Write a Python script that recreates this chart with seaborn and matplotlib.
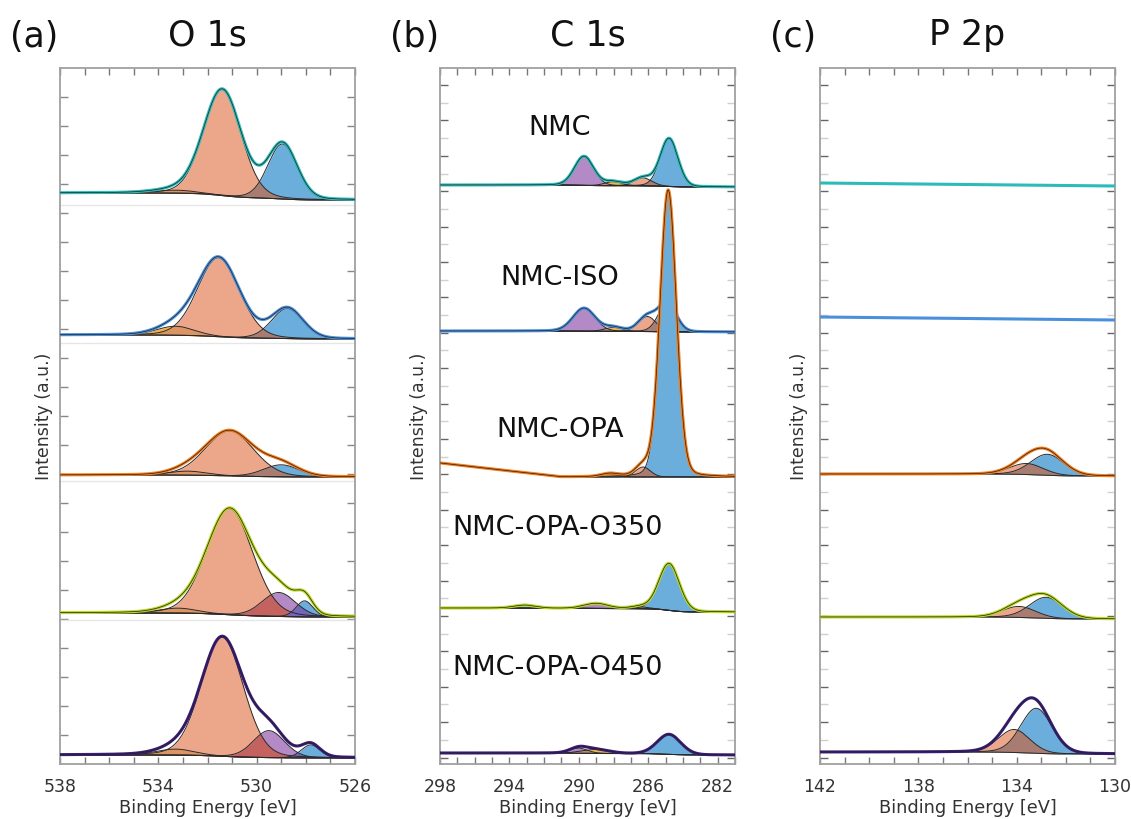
import numpy as np
import pandas as pd
import matplotlib
matplotlib.use("Agg")
import matplotlib.pyplot as plt
import seaborn as sns
from matplotlib.ticker import MultipleLocator, FixedLocator

sns.set_theme(style="white")
plt.rcParams['font.family'] = ['DejaVu Sans']

# ---------------- data ----------------
sample_names = ["NMC", "NMC-ISO", "NMC-OPA", "NMC-OPA-O350", "NMC-OPA-O450"]
sample_colors = ["#2BBBB8", "#4A8FDB", "#F57C1A", "#B9D620", "#3A1C78"]

# component fill colours
comp_fill = {"yellow": "#F2B544", "salmon": "#ECA68A", "blue": "#6BAEDC",
             "purple": "#B48AC6", "cyan": "#92D6EC"}
overlap_fill = {("salmon", "blue"): "#A87C70", ("salmon", "purple"): "#C4625F",
                ("purple", "blue"): "#7366B8", ("yellow", "salmon"): "#DC9462",
                ("yellow", "purple"): "#C08A78"}

# O 1s : (component, centre eV, height a.u., FWHM eV)
o1s_range = (526, 538)
o1s_base = [564, 425, 287, 147, 6]
o1s_step = [7, 4, 2, 4, 3]
o1s_peaks = [
    [("yellow", 533.3, 3, 2.0), ("salmon", 531.4, 106, 1.8), ("blue", 528.95, 55, 1.4)],
    [("yellow", 533.3, 9, 1.8), ("salmon", 531.55, 79, 2.0), ("blue", 528.75, 30, 1.5)],
    [("yellow", 532.8, 4, 1.8), ("salmon", 531.1, 45, 2.3), ("blue", 529.0, 12, 1.7)],
    [("yellow", 533.2, 5, 1.8), ("salmon", 531.1, 106, 2.2), ("purple", 529.1, 24, 1.6),
     ("blue", 528.05, 16, 0.8)],
    [("yellow", 533.3, 6, 1.8), ("salmon", 531.4, 119, 2.0), ("purple", 529.5, 27, 1.5),
     ("blue", 527.8, 13, 0.9)],
]

# C 1s
c1s_range = (281, 298)
c1s_base = [577, 432, 287, 152, 9]
c1s_step = [2, 1, 0, 4, 2]
c1s_tilt = [0, 0, 2.0, 0, 0]
c1s_tilt_start = 291.0
c1s_peaks = [
    [("purple", 289.7, 29, 1.3), ("yellow", 288.0, 4, 1.2), ("salmon", 286.3, 8, 1.2),
     ("blue", 284.8, 48, 1.2)],
    [("purple", 289.7, 23, 1.5), ("yellow", 288.0, 4, 1.2), ("salmon", 286.05, 15, 1.2),
     ("blue", 284.9, 29, 1.2)],
    [("yellow", 288.2, 3, 1.2), ("salmon", 286.3, 10, 1.0), ("blue", 284.85, 287, 1.1)],
    [("cyan", 293.1, 3, 1.5), ("purple", 289.0, 5, 1.6), ("salmon", 286.5, 2, 1.2),
     ("blue", 284.8, 47, 1.4)],
    [("purple", 290.0, 5, 1.2), ("yellow", 289.0, 4, 1.8), ("blue", 284.8, 20, 1.6)],
]
c1s_labels = ["NMC", "NMC-ISO", "NMC-OPA", "NMC-OPA-O350", "NMC-OPA-O450"]
c1s_label_x = [291.1, 291.1, 291.1, 297.3, 297.3]
c1s_label_y = [636, 486, 334, 236, 96]
c1s_label_ha = ["center", "center", "center", "left", "left"]

# P 2p
p2p_range = (130, 142)
p2p_base = [578, 444, 288, 145, 10]
p2p_step = [3, 3, 2, 2, 2]
p2p_peaks = [
    [],
    [],
    [("salmon", 133.6, 11, 1.6), ("blue", 132.75, 21, 1.6)],
    [("salmon", 133.9, 11, 1.6), ("blue", 132.8, 21, 1.6)],
    [("salmon", 134.1, 23, 1.5), ("blue", 133.2, 45, 1.5)],
]

panel_tags = ["(a)", "(b)", "(c)"]
panel_titles = ["O 1s", "C 1s", "P 2p"]
x_major = [[538, 534, 530, 526], [298, 294, 290, 286, 282], [142, 138, 134, 130]]


# ---------------- helpers ----------------
def pv(E, c, h, w, eta=0.12):
    d = (E - c) / w
    return h * ((1 - eta) * np.exp(-4 * np.log(2) * d ** 2) + eta / (1 + 4 * d ** 2))


def draw_panel(ax, erange, bases, steps, peaks, tilts=None, tilt_start=None):
    E = np.linspace(erange[0], erange[1], 900)
    for r in range(5):
        z = 2 + r * 6
        comps = [(name, pv(E, c, h, w)) for (name, c, h, w) in peaks[r]]
        total = np.zeros_like(E)
        for _, p in comps:
            total += p
        if total.sum() > 0:
            cum = np.concatenate([[0], np.cumsum((total[1:] + total[:-1]) / 2)])
            F = cum / cum[-1]
        else:
            F = (E - E[0]) / (E[-1] - E[0])
        bg = bases[r] + steps[r] * F
        if tilts is not None and tilts[r]:
            bg = bg + tilts[r] * np.clip(E - tilt_start, 0, None)
        for name, p in comps:
            ax.fill_between(E, bg, bg + p, color=comp_fill[name], lw=0, zorder=z)
        for i in range(len(comps)):
            for j in range(i + 1, len(comps)):
                key = (comps[i][0], comps[j][0])
                if key not in overlap_fill:
                    key = key[::-1]
                if key not in overlap_fill:
                    continue
                m = np.minimum(comps[i][1], comps[j][1])
                ax.fill_between(E, bg, bg + m, where=m > 0.4, color=overlap_fill[key],
                                lw=0, zorder=z + 0.5)
        for name, p in comps:
            ax.plot(E, bg + p, color="#2a2a2a", lw=0.7, zorder=z + 1)
        env = bg + total
        if comps:
            ax.plot(E, bg, color="#2a2a2a", lw=0.7, zorder=z + 1)
        df = pd.DataFrame({"E": E, "I": env})
        sns.lineplot(data=df, x="E", y="I", color=sample_colors[r], lw=2.2, ax=ax,
                     estimator=None, sort=False, zorder=z + 2)
        if comps:
            ax.plot(E, env, color="#222222", lw=0.5, zorder=z + 3)
    ax.set_xlim(erange[1], erange[0])


# ---------------- figure ----------------
fig = plt.figure(figsize=(11.31, 8.19), dpi=100)
W, H = 1131, 819
top_px, bot_px = 68, 764
lefts = [60, 440, 820]
width = 295
axes = []
for k in range(3):
    ax = fig.add_axes([lefts[k] / W, 1 - bot_px / H, width / W, (bot_px - top_px) / H])
    axes.append(ax)

draw_panel(axes[0], o1s_range, o1s_base, o1s_step, o1s_peaks)
draw_panel(axes[1], c1s_range, c1s_base, c1s_step, c1s_peaks, c1s_tilt, c1s_tilt_start)
draw_panel(axes[2], p2p_range, p2p_base, p2p_step, p2p_peaks)

for y in [559, 421, 283, 144]:
    axes[0].axhline(y, color="#e6e6e6", lw=1.0, zorder=1)

for i, lab in enumerate(c1s_labels):
    axes[1].text(c1s_label_x[i], c1s_label_y[i], lab, ha=c1s_label_ha[i], va="center",
                 fontsize=19.5, color="#111111", zorder=60)

yspan = bot_px - top_px
for k, ax in enumerate(axes):
    ax.set_ylim(0, yspan)
    ax.xaxis.set_major_locator(FixedLocator(x_major[k]))
    ax.xaxis.set_minor_locator(MultipleLocator(1))
    ax.tick_params(axis="x", which="both", direction="in", top=True, bottom=True,
                   length=5, width=1, color="#777777", labelsize=12.5, labelcolor="#333333",
                   pad=10)
    if k == 0:
        ax.yaxis.set_major_locator(FixedLocator(np.arange(yspan - 29, 0, -29)))
        ax.tick_params(axis="y", which="major", direction="in", left=True, right=True,
                       length=6, width=1, color="#888888", labelleft=False)
    else:
        ax.yaxis.set_major_locator(FixedLocator(np.arange(yspan - 17, 0, -35.4)))
        ax.yaxis.set_minor_locator(FixedLocator(np.arange(yspan - 34.7, 0, -35.4)))
        ax.tick_params(axis="y", which="major", direction="in", left=True, right=True,
                       length=6, width=1, color="#666666", labelleft=False)
        ax.tick_params(axis="y", which="minor", direction="in", left=True, right=True,
                       length=6, width=1, color="#d0d0d0")
    for s in ax.spines.values():
        s.set_color("#a0a0a0")
        s.set_linewidth(1.3)
    ax.set_xlabel("Binding Energy [eV]", fontsize=12.8, color="#333333", labelpad=2)
    ax.set_ylabel("Intensity (a.u.)", fontsize=12.5, color="#333333", labelpad=5)
    cx = (lefts[k] + width / 2) / W
    fig.text(cx, 1 - 35 / H, panel_titles[k], ha="center", va="center", fontsize=25,
             color="#111111")
    fig.text((lefts[k] - 50) / W, 1 - 37 / H, panel_tags[k], ha="left", va="center",
             fontsize=25, color="#111111")

fig.savefig("out.png", dpi=100)
